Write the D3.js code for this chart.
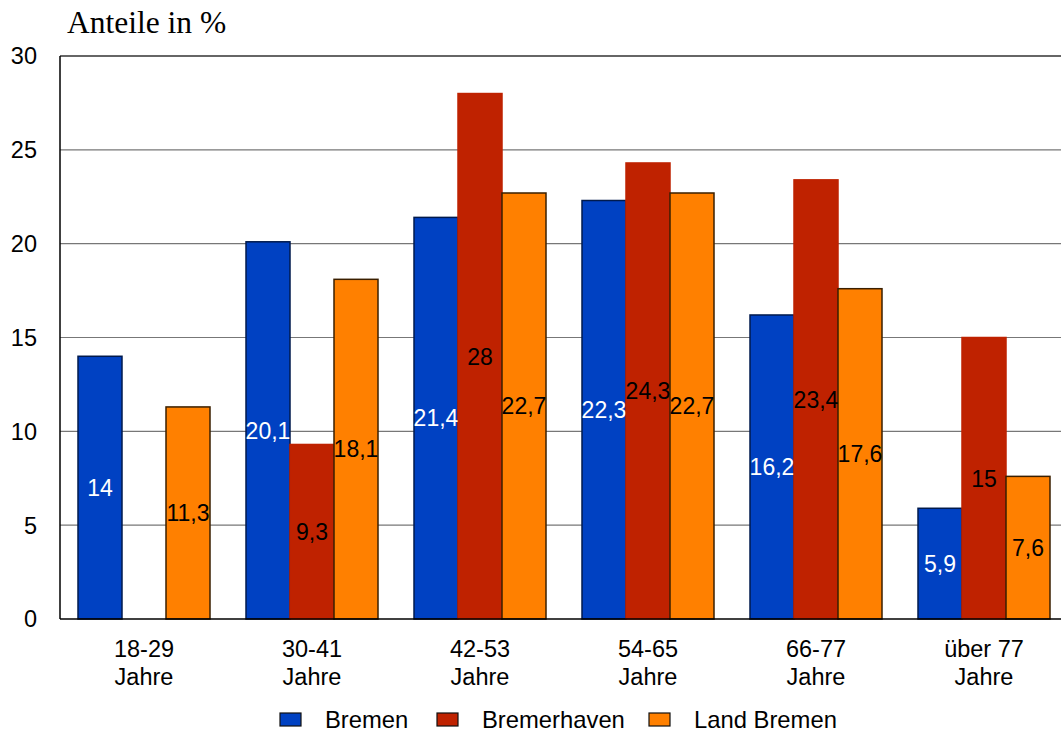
<!DOCTYPE html>
<html><head><meta charset="utf-8">
<script src="https://cdn.jsdelivr.net/npm/d3@7"></script>
<style>body{margin:0;background:#fff;overflow:hidden}</style>
</head><body>
<script>
const categories = [["18-29","Jahre"],["30-41","Jahre"],["42-53","Jahre"],["54-65","Jahre"],["66-77","Jahre"],["über 77","Jahre"]];
const seriesNames = ["Bremen","Bremerhaven","Land Bremen"];
const bremen = [14, 20.1, 21.4, 22.3, 16.2, 5.9];
const bremerhaven = [null, 9.3, 28, 24.3, 23.4, 15];
const landBremen = [11.3, 18.1, 22.7, 22.7, 17.6, 7.6];
const yTicks = [0,5,10,15,20,25,30];
const colors = ["#0041c2","#bf2200","#ff8000"];
const strokes = ["#001a4d","#bf2200","#3a1f00"];
const labelColors = ["#fff","#000","#000"];

(function(){
const W = 1061, H = 733;
const svg = d3.select("body").append("svg").attr("width", W).attr("height", H)
  .style("font-family","'Liberation Sans', Arial, sans-serif");

const mLeft = 60, mRight = 1068, mTop = 56, mBottom = 619;
const catKeys = categories.map(c => c.join(" "));
const x0 = d3.scaleBand().domain(catKeys).range([mLeft, mRight]).padding(0);
const x1 = d3.scaleBand().domain(seriesNames).range([18, 150]).padding(0);
const y = d3.scaleLinear().domain([0, 30]).range([mBottom, mTop]);

// gridlines
svg.append("g").selectAll("line").data(yTicks.filter(t => t > 0 && t < 30)).join("line")
  .attr("x1", mLeft).attr("x2", W).attr("y1", d => y(d)).attr("y2", d => y(d))
  .attr("stroke", "#777").attr("stroke-width", 1.2);
svg.append("line").attr("x1", mLeft).attr("x2", W).attr("y1", y(30)).attr("y2", y(30))
  .attr("stroke", "#333").attr("stroke-width", 1.5);

// y tick labels
svg.append("g").selectAll("text").data(yTicks).join("text")
  .attr("x", 37).attr("y", d => y(d)).attr("dy", "0.36em")
  .attr("text-anchor", "end").attr("font-size", 23.5).attr("fill", "#000")
  .text(d => d);

const allSeries = [bremen, bremerhaven, landBremen];
const groups = svg.append("g").selectAll("g").data(categories).join("g")
  .attr("transform", (d, i) => `translate(${x0(catKeys[i])},0)`);

groups.each(function(c, i) {
  const g = d3.select(this);
  seriesNames.forEach((s, k) => {
    const v = allSeries[k][i];
    if (v == null) return;
    g.append("rect")
      .attr("x", x1(s)).attr("width", x1.bandwidth())
      .attr("y", y(v)).attr("height", y(0) - y(v))
      .attr("fill", colors[k]).attr("stroke", strokes[k]).attr("stroke-width", 1.5);
  });
  seriesNames.forEach((s, k) => {
    const v = allSeries[k][i];
    if (v == null) return;
    g.append("text")
      .attr("x", x1(s) + x1.bandwidth() / 2)
      .attr("y", (y(v) + y(0)) / 2).attr("dy", "0.36em")
      .attr("text-anchor", "middle").attr("font-size", 23)
      .attr("fill", labelColors[k])
      .text(String(v).replace(".", ","));
  });
  c.forEach((line, j) => {
    g.append("text").attr("x", x0.bandwidth() / 2).attr("y", 657 + j * 28)
      .attr("text-anchor", "middle").attr("font-size", 23.5).attr("fill", "#000").text(line);
  });
});

// axes lines
svg.append("line").attr("x1", mLeft).attr("x2", mLeft).attr("y1", y(30)).attr("y2", y(0))
  .attr("stroke", "#000").attr("stroke-width", 1.5);
svg.append("line").attr("x1", mLeft).attr("x2", W).attr("y1", y(0)).attr("y2", y(0))
  .attr("stroke", "#000").attr("stroke-width", 1.5);

// title
svg.append("text").attr("x", 67).attr("y", 33)
  .attr("font-family", "'Liberation Serif', 'Times New Roman', serif")
  .attr("font-size", 31.5).attr("fill", "#000").text("Anteile in %");

// legend
const legendX = [280, 437, 649];
const leg = svg.append("g").selectAll("g").data(seriesNames).join("g")
  .attr("transform", (d, i) => `translate(${legendX[i]},0)`);
leg.append("rect").attr("x", 0).attr("y", 713).attr("width", 21).attr("height", 13)
  .attr("fill", (d, i) => colors[i]).attr("stroke", "#111").attr("stroke-width", 1.2);
leg.append("text").attr("x", 45).attr("y", 728).attr("font-size", 23.8).attr("fill", "#000").text(d => d);
})();
</script>
</body></html>
